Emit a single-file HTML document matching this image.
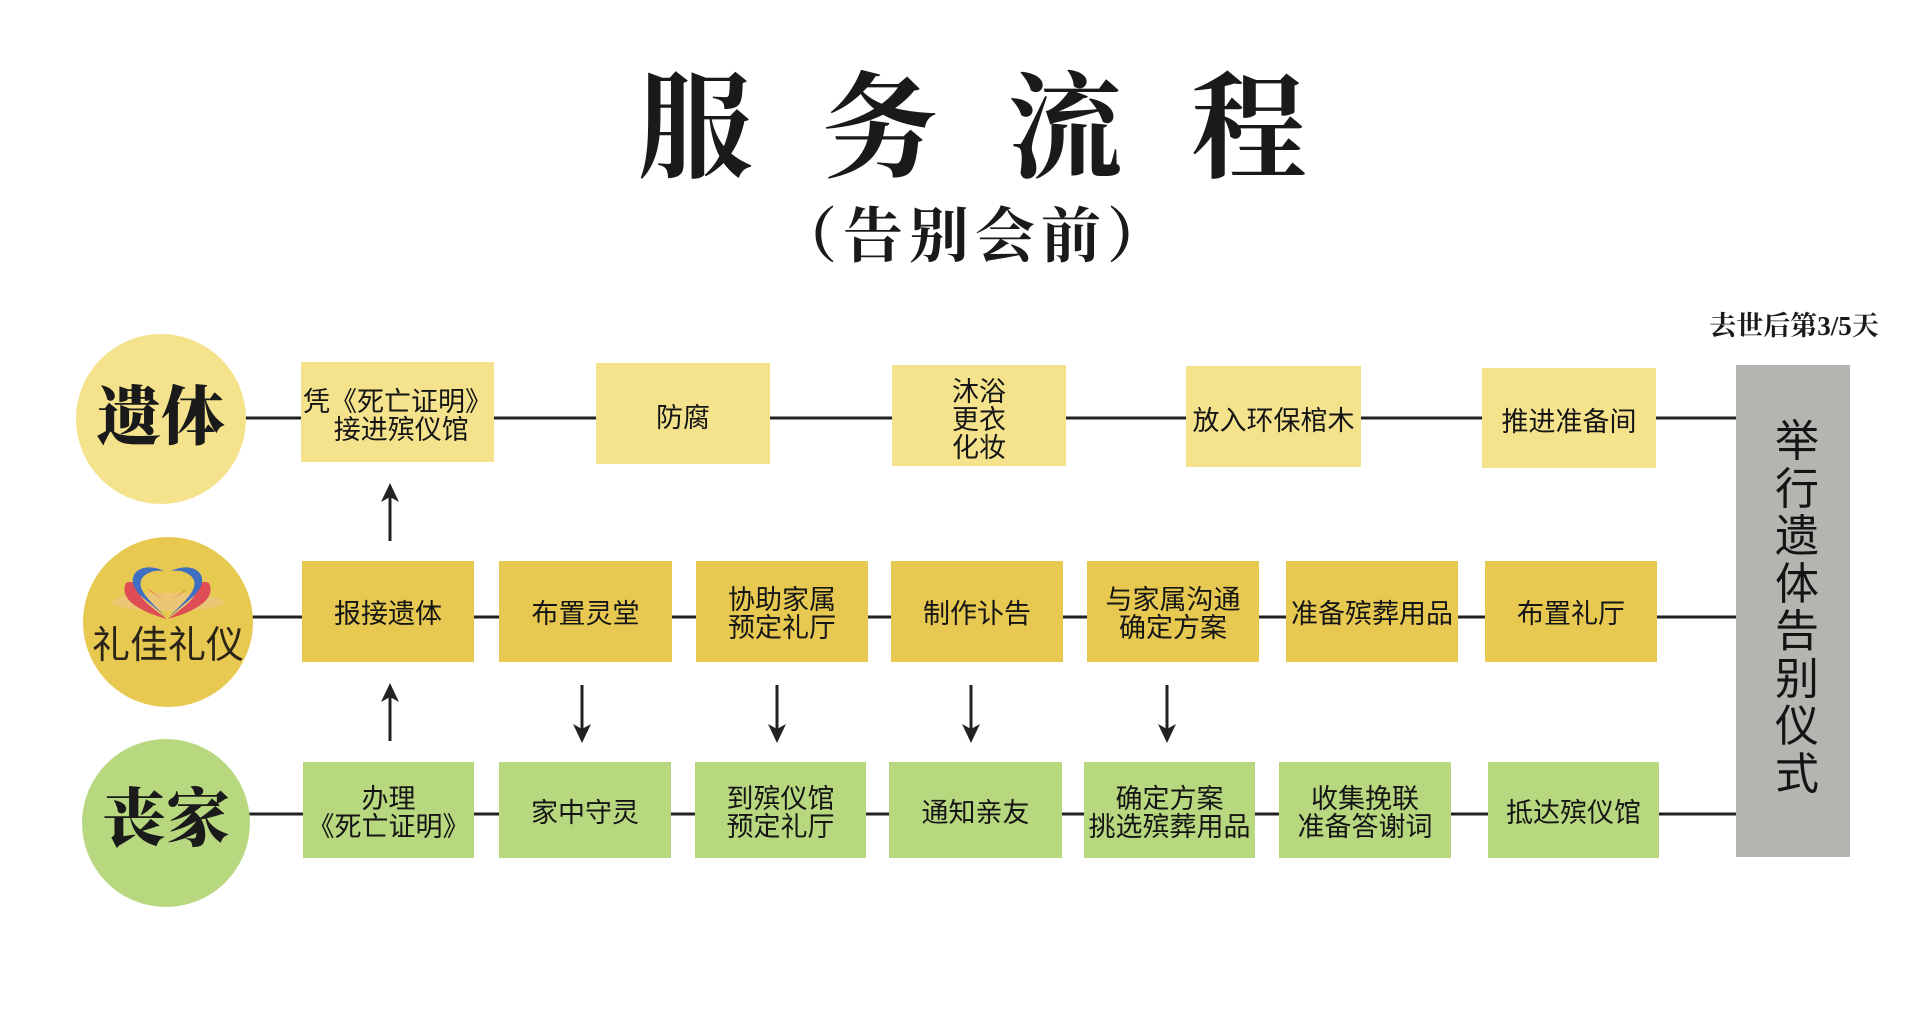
<!DOCTYPE html>
<html>
<head>
<meta charset="utf-8">
<style>
  html,body{margin:0;padding:0;background:#fff;}
  #c{position:relative;width:1920px;height:1013px;overflow:hidden;background:#fff;}
  .t{position:absolute;font-family:"Liberation Serif","Noto Serif CJK SC",serif;font-weight:700;color:#1a1a1a;line-height:1;text-align:center;white-space:nowrap;}
  .circ{position:absolute;border-radius:50%;}
  .box{position:absolute;display:flex;align-items:center;justify-content:center;text-align:center;box-sizing:border-box;padding-top:5px;
       font-family:"Liberation Sans","Noto Sans CJK SC",sans-serif;font-size:27px;line-height:28px;color:#151515;white-space:nowrap;}
  .y1{background:#F4E38C;padding-top:8px;}
  .y2{background:#E7C951;}
  .g{background:#B8D880;}
</style>
</head>
<body>
<div id="c">
  <!-- Title -->
  <div class="t" style="left:635px;top:72px;width:120px;font-size:115px;">服</div>
  <div class="t" style="left:820px;top:72px;width:120px;font-size:115px;">务</div>
  <div class="t" style="left:1005px;top:72px;width:120px;font-size:115px;">流</div>
  <div class="t" style="left:1189px;top:72px;width:120px;font-size:115px;">程</div>
  <div class="t" style="left:752px;top:207px;width:440px;font-size:60px;font-weight:700;letter-spacing:6px;text-indent:6px;">（告别会前）</div>

  <div class="t" style="left:1694px;top:313px;width:200px;font-size:27px;font-weight:700;">去世后第3/5天</div>

  <!-- lines & arrows -->
  <svg style="position:absolute;left:0;top:0" width="1920" height="1013">
    <g stroke="#222" stroke-width="3">
      <line x1="240" y1="418" x2="1740" y2="418"/>
      <line x1="245" y1="617" x2="1740" y2="617"/>
      <line x1="245" y1="814" x2="1740" y2="814"/>
      <line x1="390" y1="541" x2="390" y2="492"/>
      <line x1="390" y1="741" x2="390" y2="692"/>
      <line x1="582" y1="685" x2="582" y2="733"/>
      <line x1="777" y1="685" x2="777" y2="733"/>
      <line x1="971" y1="685" x2="971" y2="733"/>
      <line x1="1167" y1="685" x2="1167" y2="733"/>
    </g>
    <g fill="#222">
      <path d="M390 483 L399 502 L390 497 L381 502 Z"/>
      <path d="M390 683 L399 702 L390 697 L381 702 Z"/>
      <path d="M582 743 L591 724 L582 729 L573 724 Z"/>
      <path d="M777 743 L786 724 L777 729 L768 724 Z"/>
      <path d="M971 743 L980 724 L971 729 L962 724 Z"/>
      <path d="M1167 743 L1176 724 L1167 729 L1158 724 Z"/>
    </g>
  </svg>

  <!-- Circles -->
  <div class="circ" style="left:76px;top:334px;width:170px;height:170px;background:#F4E38C;"></div>
  <div class="t" style="left:81px;top:386px;width:160px;font-size:64px;font-weight:900;">遗体</div>

  <div class="circ" style="left:83px;top:537px;width:170px;height:170px;background:#E7C951;"></div>
  <svg style="position:absolute;left:0;top:0" width="400" height="800">
    <ellipse cx="168" cy="602" rx="56" ry="9" fill="#EDC57E" opacity="0.8"/>
    <g id="lg">
      <path d="M126 583 C118 600 142 612 167 619 C150 606 136 597 138 585 C135 582 129 581 126 583 Z" fill="#DE4D55"/>
      <path d="M164 571 C141 560 121 576 141 596 L166 617 C150 601 133 587 144 576 C150 571 157 570 164 571 Z" fill="#3E6FC0"/>
      <path d="M148 589 L166 601 L150 591 Z" fill="#DE4D55"/>
    </g>
    <use href="#lg" transform="translate(335,0) scale(-1,1)"/>
  </svg>
  <div style="position:absolute;left:88px;top:625px;width:160px;text-align:center;font-family:'Liberation Sans','Noto Sans CJK SC',sans-serif;font-weight:400;font-size:38px;line-height:42px;color:#2a2418;white-space:nowrap;">礼佳礼仪</div>

  <div class="circ" style="left:82px;top:739px;width:168px;height:168px;background:#B8D880;"></div>
  <div class="t" style="left:86px;top:788px;width:160px;font-size:64px;font-weight:900;">丧家</div>

  <!-- Top row -->
  <div class="box y1" style="left:301px;top:362px;width:193px;height:100px;">凭《死亡证明》<br>&nbsp;接进殡仪馆</div>
  <div class="box y1" style="left:596px;top:363px;width:174px;height:101px;">防腐</div>
  <div class="box y1" style="left:892px;top:365px;width:174px;height:101px;">沐浴<br>更衣<br>化妆</div>
  <div class="box y1" style="left:1186px;top:366px;width:175px;height:101px;">放入环保棺木</div>
  <div class="box y1" style="left:1482px;top:368px;width:174px;height:100px;">推进准备间</div>

  <!-- Middle row -->
  <div class="box y2" style="left:302px;top:561px;width:172px;height:101px;">报接遗体</div>
  <div class="box y2" style="left:499px;top:561px;width:173px;height:101px;">布置灵堂</div>
  <div class="box y2" style="left:696px;top:561px;width:172px;height:101px;">协助家属<br>预定礼厅</div>
  <div class="box y2" style="left:891px;top:561px;width:172px;height:101px;">制作讣告</div>
  <div class="box y2" style="left:1087px;top:561px;width:172px;height:101px;">与家属沟通<br>确定方案</div>
  <div class="box y2" style="left:1286px;top:561px;width:172px;height:101px;">准备殡葬用品</div>
  <div class="box y2" style="left:1485px;top:561px;width:172px;height:101px;">布置礼厅</div>

  <!-- Bottom row -->
  <div class="box g" style="left:303px;top:762px;width:171px;height:96px;">办理<br>《死亡证明》</div>
  <div class="box g" style="left:499px;top:762px;width:172px;height:96px;">家中守灵</div>
  <div class="box g" style="left:695px;top:762px;width:171px;height:96px;">到殡仪馆<br>预定礼厅</div>
  <div class="box g" style="left:889px;top:762px;width:173px;height:96px;">通知亲友</div>
  <div class="box g" style="left:1084px;top:762px;width:171px;height:96px;">确定方案<br>挑选殡葬用品</div>
  <div class="box g" style="left:1279px;top:762px;width:172px;height:96px;">收集挽联<br>准备答谢词</div>
  <div class="box g" style="left:1488px;top:762px;width:171px;height:96px;">抵达殡仪馆</div>

  <!-- Gray bar -->
  <div style="position:absolute;left:1736px;top:365px;width:114px;height:492px;background:#B4B5B0;"></div>
  <div style="position:absolute;left:1770px;top:418px;width:54px;text-align:center;font-family:'Liberation Sans','Noto Sans CJK SC',sans-serif;font-size:44px;line-height:47.5px;color:#141414;">举<br>行<br>遗<br>体<br>告<br>别<br>仪<br>式</div>
</div>
</body>
</html>
